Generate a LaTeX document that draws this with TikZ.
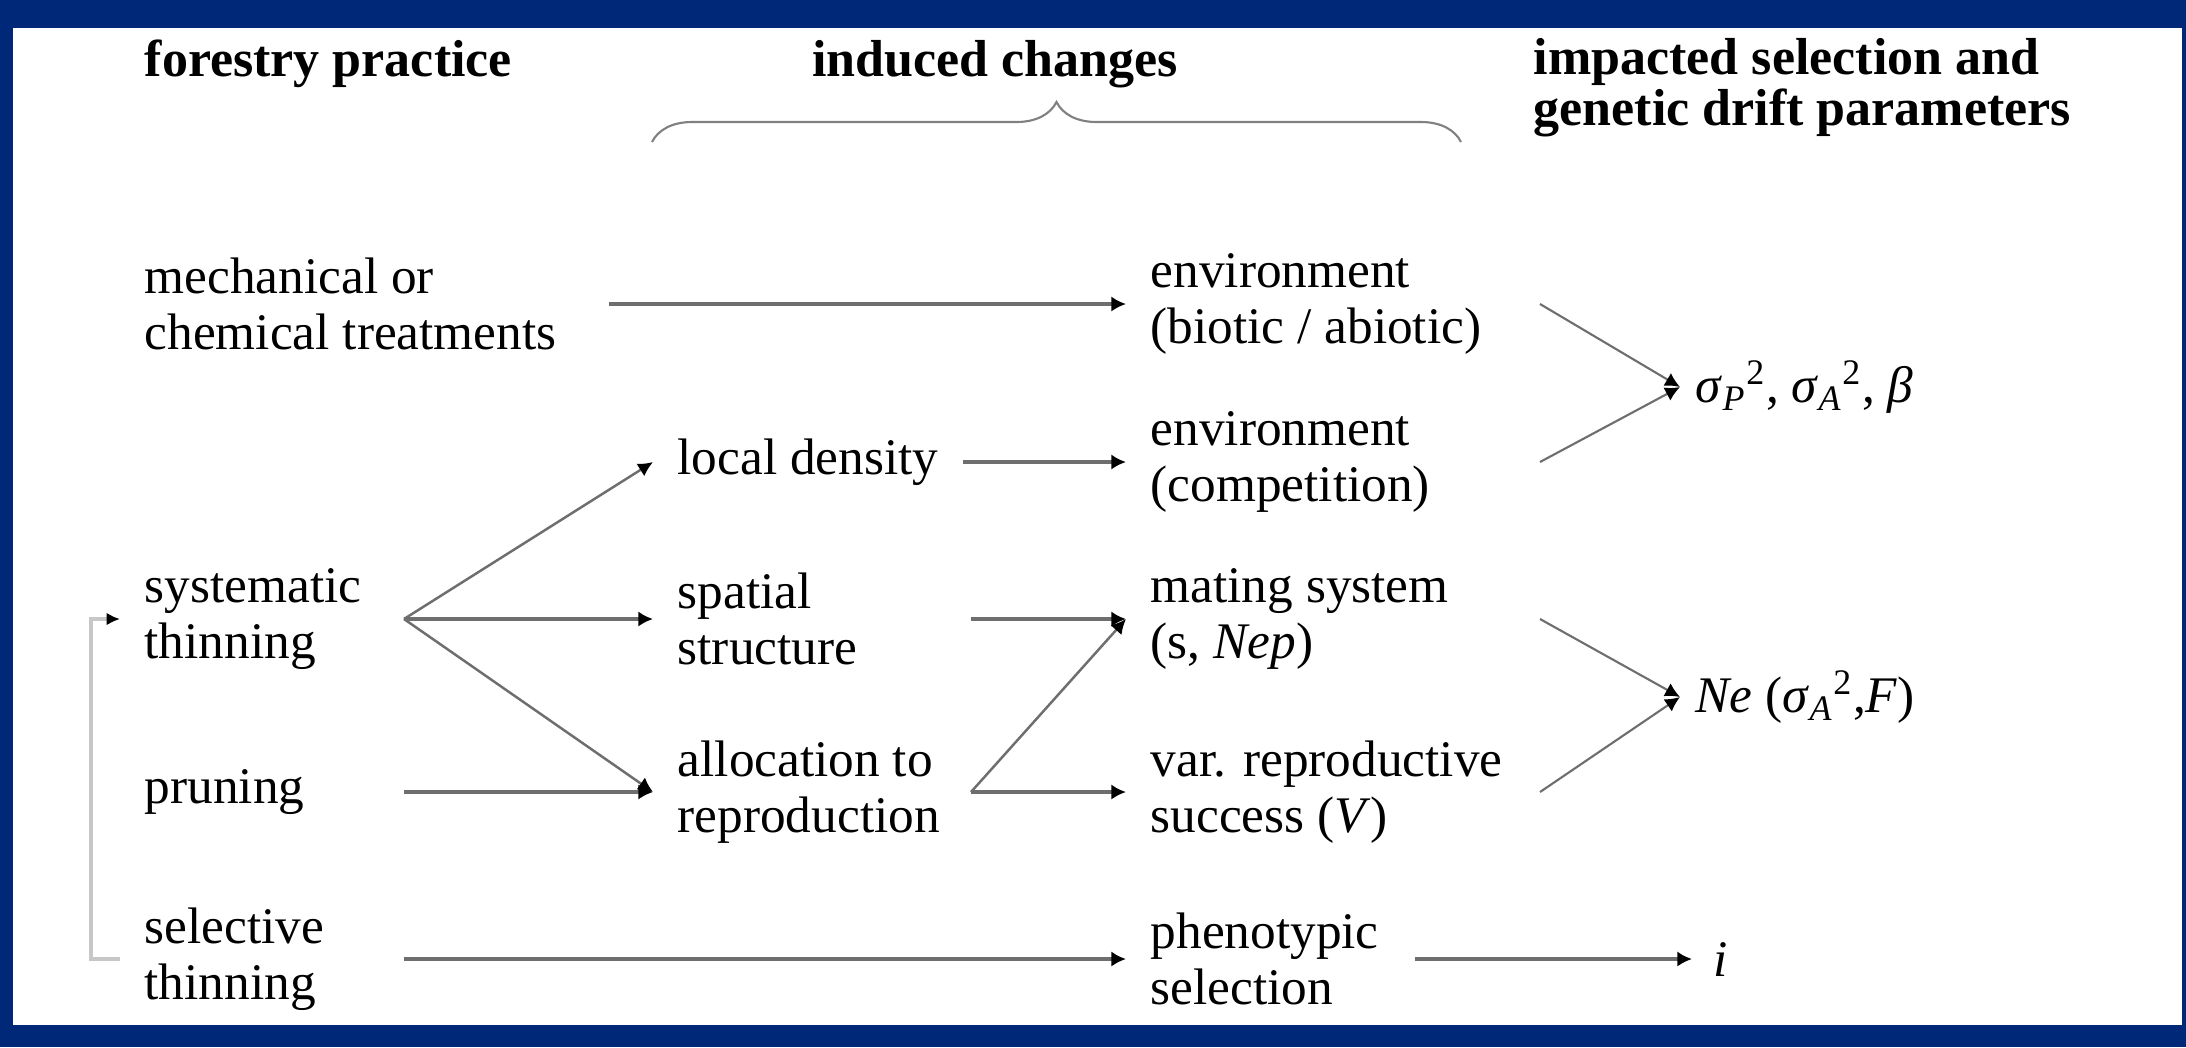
\documentclass[tikz,border=0pt]{standalone}
\usepackage{fontspec}
\setmainfont{Liberation Serif}
\usepackage{tikz}
\usepackage{xcolor}
\usetikzlibrary{arrows.meta, positioning, calc, decorations.pathreplacing}
\definecolor{frameblue}{RGB}{0,40,120}
\definecolor{linegray}{RGB}{110,110,110}

\begin{document}
\begin{tikzpicture}[
		txt/.style={anchor=west, align=left, inner xsep=2.4mm, inner ysep=0pt, font=\fontsize{14.6}{16}\selectfont},
		head/.style={align=left, inner sep=0pt, font=\fontsize{14.8}{14.6}\selectfont\bfseries},
		arr/.style={draw=linegray, line width=1.1pt, -{Latex[length=4.2pt,width=4.4pt,black]}},
		arrthin/.style={draw=linegray, line width=0.7pt, -{Latex[length=4.2pt,width=4.2pt,black]}}
	]
		% Frame
		\fill[frameblue] (0,0) rectangle (21.86,-10.47);
		\fill[white] (0.13,-0.28) rectangle (21.82,-10.25);
		
		% Headings
		\node[head, anchor=base west] (H1) at (1.44,-0.76) {forestry practice};
		\node[head, anchor=base] (H2) at (9.95,-0.76) {induced changes};
		\node[head, anchor=west] (H3) at (15.33,-0.88) {impacted selection and\\genetic drift parameters};
		\draw[decorate, decoration={brace, amplitude=0.4cm}, draw=gray, line width=0.6pt] (6.52,-1.42) -- (14.61,-1.42);
		
		\node[txt] (Mech) at (1.20,-3.04) {mechanical or\\chemical treatments};
		\node[txt] (Syst) at (1.20,-6.19) {systematic\\thinning};
		\node[txt] (Prun) at (1.20,-7.92) {pruning};
		\node[txt] (Sel) at (1.20,-9.59) {selective\\thinning};
		
		\node[txt] (LocD) at (6.53,-4.62) {local density};
		\node[txt] (Spat) at (6.53,-6.19) {spatial\\structure};
		\node[txt] (Alloc) at (6.53,-7.92) {allocation to\\reproduction};
		
		\node[txt] (EnvA) at (11.26,-3.04) {environment\\(biotic / abiotic)};
		\node[txt] (EnvB) at (11.26,-4.62) {environment\\(competition)};
		\node[txt] (Mate) at (11.26,-6.19) {mating system\\(s, \textit{Nep})};
		\node[txt] (VarR) at (11.26,-7.92) {var. reproductive\\success (\textit{V})};
		\node[txt] (Phen) at (11.26,-9.59) {phenotypic\\selection};
		
		\node[txt, inner xsep=1.5mm] (Par-1) at (16.80,-3.87) {\textit{σ}\textsubscript{\textit{P}}\textsuperscript{2}, \textit{σ}\textsubscript{\textit{A}}\textsuperscript{2}, \textit{β}};
		\node[txt, inner xsep=1.5mm] (Par-2) at (16.80,-6.97) {\textit{Ne} (\textit{σ}\textsubscript{\textit{A}}\textsuperscript{2},\textit{F})};
		\node[txt, inner xsep=2.1mm] (Par-3) at (16.92,-9.59) {\textit{i}};
		
		\coordinate (Fan) at (4.04,-6.19);
		\coordinate (Mid) at (9.71,0);
		\coordinate (Join) at (15.40,0);
		
		% Practice to changes
		\draw[arr, line width=0.9pt, shorten <=0.28cm] (Mech.east) -- (EnvA.west);
		\draw[arrthin] (Fan) -- (LocD.west);
		\draw[arr] (Fan) -- (Spat.west);
		\draw[arrthin] (Fan) -- (Alloc.west);
		\draw[arr] (Prun -| Fan) -- (Alloc.west);
		\draw[arr, line width=0.9pt] (Sel -| Fan) -- (Phen.west);
		\draw[arr] (LocD.east) -- (EnvB.west);
		\draw[arr] (Spat -| Mid) -- (Mate.west);
		\draw[arrthin] (Alloc -| Mid) -- (Mate.west);
		\draw[arr] (Alloc -| Mid) -- (VarR.west);
		\draw[arr, line width=0.9pt, shorten <=0.12cm] (Phen.east) -- (Par-3.west);
		
		% Parameters
		\draw[arrthin, line width=0.6pt] (EnvA -| Join) -- (Par-1.west);
		\draw[arrthin, line width=0.6pt] (EnvB -| Join) -- (Par-1.west);
		\draw[arrthin, line width=0.6pt] (Mate -| Join) -- (Par-2.west);
		\draw[arrthin, line width=0.6pt] (VarR -| Join) -- (Par-2.west);
		
		% Loop back
		\draw[draw=black!22, line width=0.9pt, -{Latex[length=3.8pt,width=3.6pt,black]}] (Sel.west) -- ++(-0.29,0) |- (Syst.west);
	\end{tikzpicture}
\end{document}
